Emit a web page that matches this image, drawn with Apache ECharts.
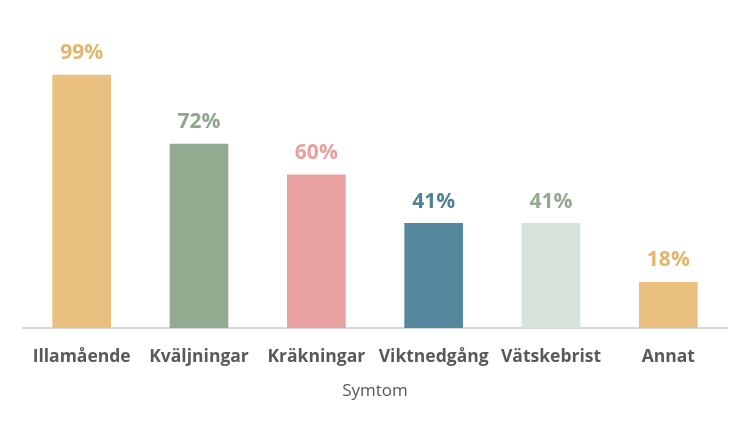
<!DOCTYPE html>
<html><head><meta charset="utf-8">
<script src="https://cdn.jsdelivr.net/npm/echarts@6/dist/echarts.min.js"></script>
<style>html,body{margin:0;padding:0;background:#fff}#c{width:750px;height:428px}</style>
</head><body><div id="c"></div>
<script>
const categories = ['Illamående','Kväljningar','Kräkningar','Viktnedgång','Vätskebrist','Annat'];
const values = [99, 72, 60, 41, 41, 18];
const barColors = ['#E9C07F','#92AA8F','#E8A0A0','#55879D','#D7E2DB','#E9C07F'];
const labelColors = ['#E3B56C','#8FA78C','#E8A0A0','#4F8199','#93AA90','#E3B56C'];
const axisName = 'Symtom';

const chart = echarts.init(document.getElementById('c'));
chart.setOption({
  animation: false,
  grid: {left: 23, right: 23, top: 21, bottom: 100},
  xAxis: {
    type: 'category', data: categories,
    name: axisName, nameLocation: 'middle', nameGap: 55,
    nameTextStyle: {fontFamily: 'Open Sans', fontSize: 17, color: '#595959'},
    axisLine: {lineStyle: {color: '#D9D9D9', width: 2}},
    axisTick: {show: false},
    axisLabel: {fontFamily: 'Open Sans', fontSize: 17.5, fontWeight: 'bold', color: '#595959', margin: 20, interval: 0}
  },
  yAxis: {type: 'value', min: 0, max: 120, show: false, splitLine: {show: false}},
  series: [{
    type: 'bar', barWidth: '50%',
    data: values.map((v, i) => ({
      value: v,
      itemStyle: {color: barColors[i]},
      label: {color: labelColors[i]}
    })),
    label: {show: true, position: 'top', distance: 11, formatter: '{c}%',
      fontFamily: 'Open Sans', fontSize: 21, fontWeight: 'bold'}
  }]
});
</script></body></html>
